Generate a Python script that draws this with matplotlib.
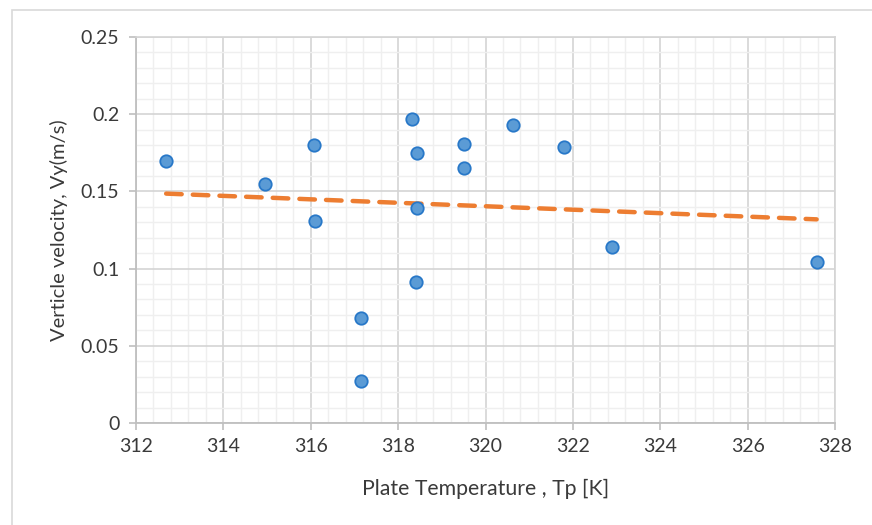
import matplotlib
matplotlib.use("Agg")
import matplotlib.pyplot as plt
import numpy as np
from matplotlib.patches import Rectangle
from matplotlib.ticker import MultipleLocator

# plate temperature [K] and measured vertical velocity [m/s]
plate_temp = [312.69, 314.95, 316.07, 316.10, 317.15, 317.15, 318.32, 318.43,
              318.43, 318.40, 319.50, 319.50, 320.63, 321.79, 322.90, 327.58]
velocity = [0.170, 0.155, 0.180, 0.131, 0.068, 0.027, 0.197, 0.175,
            0.139, 0.091, 0.181, 0.165, 0.193, 0.179, 0.114, 0.104]

x_ticks = np.arange(312, 329, 2)
y_ticks = [0, 0.05, 0.1, 0.15, 0.2, 0.25]
y_labels = ["0", "0.05", "0.1", "0.15", "0.2", "0.25"]

plt.rcParams["font.family"] = ["Lato", "DejaVu Sans"]

fig = plt.figure(figsize=(8.72, 5.25), dpi=100)
ax = fig.add_axes([136 / 872, 1 - 423 / 525, 699 / 872, 386 / 525])

# chart area border
fig.patches.append(Rectangle((12 / 872, -0.1), 1.2, 1 - 10 / 525 + 0.1,
                             transform=fig.transFigure, fill=False,
                             edgecolor="#D9D9D9", linewidth=1.2))

ax.set_xlim(312, 328)
ax.set_ylim(0, 0.25)
ax.set_xticks(x_ticks)
ax.set_yticks(y_ticks)
ax.set_yticklabels(y_labels)
ax.xaxis.set_minor_locator(MultipleLocator(0.4))
ax.yaxis.set_minor_locator(MultipleLocator(0.01))

ax.grid(which="minor", color="#EFEFEF", linewidth=1.0)
ax.grid(which="major", color="#D4D4D4", linewidth=1.2)
ax.set_axisbelow(True)

for side in ["top", "right"]:
    ax.spines[side].set_color("#D4D4D4")
    ax.spines[side].set_linewidth(1.2)
for side in ["left", "bottom"]:
    ax.spines[side].set_color("#BFBFBF")
    ax.spines[side].set_linewidth(1.3)

ax.tick_params(which="major", length=5, width=1.2, color="#BFBFBF",
               labelsize=14, labelcolor="#3A3A3A")
ax.tick_params(axis="y", pad=7)
ax.tick_params(axis="x", pad=6)
ax.tick_params(which="minor", length=0)

ax.scatter(plate_temp, velocity, s=80, color="#5B9BD5", edgecolor="#2878C8",
           linewidth=1.3, zorder=3)

# linear trend line over the data range
slope, intercept = np.polyfit(plate_temp, velocity, 1)
tx = np.array([min(plate_temp), max(plate_temp)])
ax.plot(tx, slope * tx + intercept, color="#ED7D31", linewidth=3.2,
        linestyle=(0, (3.5, 2.5)), solid_capstyle="round",
        dash_capstyle="round", zorder=2)

ax.set_xlabel("Plate Temperature , Tp [K]", fontsize=15.3, color="#3A3A3A",
              labelpad=17)
ax.set_ylabel("Verticle velocity, Vy(m/s)", fontsize=14.5, color="#3A3A3A",
              labelpad=9)

fig.savefig("out.png", dpi=100)
